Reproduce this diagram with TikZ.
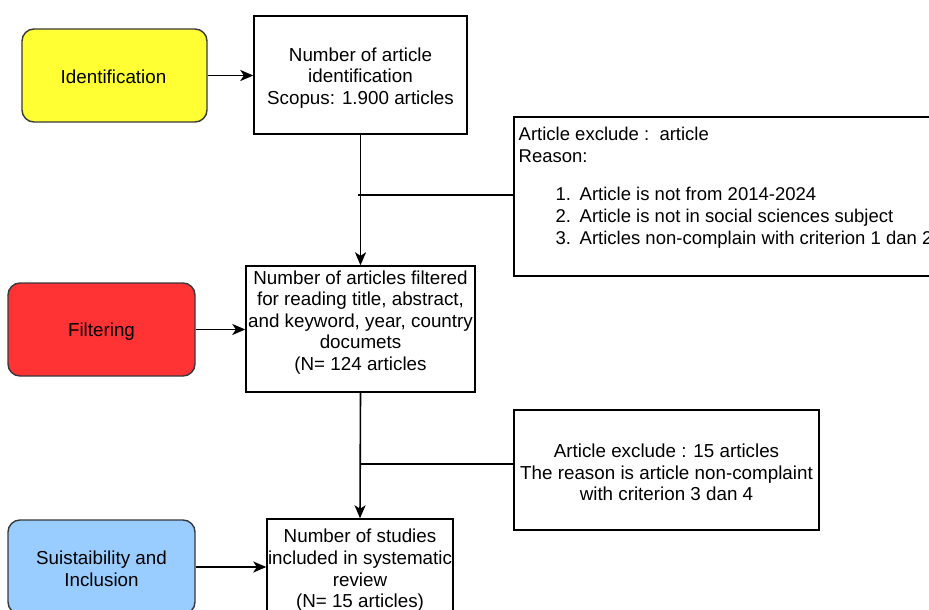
\documentclass[tikz,border=0pt]{standalone}
\usepackage{fontspec}
\setmainfont{Liberation Sans}
\usetikzlibrary{arrows.meta}
\definecolor{yel}{HTML}{FFFF33}
\definecolor{redf}{HTML}{FF3333}
\definecolor{bluef}{HTML}{99CCFF}
\definecolor{edgeg}{HTML}{36393D}
\newcommand{\fs}{\fontsize{18.8}{21.6}\selectfont}
\newcommand{\fsl}{\fontsize{18.5}{21.6}\selectfont}
\begin{document}
\begin{tikzpicture}[x=1pt,y=-1pt,
  box/.style={draw=black, line width=1.4pt, fill=white, inner sep=0pt},
  phase/.style={draw=edgeg, line width=1.4pt, rounded corners=12pt, inner sep=0pt},
  txt/.style={align=center, font=\fs, inner sep=0pt},
  conn/.style={line width=1.6pt},
  arr/.style={conn, -{Stealth[length=13pt,width=11pt,inset=3.5pt]}}]
\useasboundingbox (0,0) rectangle (929,610);
\clip (0,0) rectangle (929,610);
\fill[white] (0,0) rectangle (929,610);

% phase boxes
\node[phase, fill=yel, minimum width=185pt, minimum height=93pt] (id) at (114.5,75.5) {};
\node[txt] (idt) at (113.5,77) {Identification};
\node[phase, fill=redf, minimum width=187pt, minimum height=93pt] (filt) at (101.5,329.5) {};
\node[txt] (filtt) at (101.5,331.5) {Filtering};
\node[phase, fill=bluef, minimum width=187pt, minimum height=94pt] (su) at (101.5,567) {};
\node[txt] (sut) at (101.5,569) {Suistaibility and\\Inclusion};

% main boxes
\node[box, minimum width=213pt, minimum height=118pt] (b1) at (360.5,75) {};
\node[txt] (b1t) at (360.5,78) {Number of article\\identification\\Scopus: 1.900 articles};
\node[box, minimum width=229pt, minimum height=126pt] (b2) at (360.5,329) {};
\node[txt] (b2t) at (360.5,322.5) {Number of articles filtered\\for reading title, abstract,\\and keyword, year, country\\documets\\(N= 124 articles};
\node[box, minimum width=186pt, minimum height=100pt] (b3) at (360,569) {};
\node[txt] (b3t) at (360,570.5) {Number of studies\\included in systematic\\review\\(N= 15 articles)};

% exclusion boxes
\node[box, minimum width=446pt, minimum height=159pt] (e1) at (737,196.5) {};
\node[txt, font=\fsl, align=left, anchor=north west] (e1t) at (518.5,127) {Article exclude :\ \ article\\Reason:\\[17pt]\hspace*{37pt}\makebox[24pt][l]{1.}Article is not from 2014-2024\\\hspace*{37pt}\makebox[24pt][l]{2.}Article is not in social sciences subject\\\hspace*{37pt}\makebox[24pt][l]{3.}Articles non-complain with criterion 1 dan 2};
\node[box, minimum width=305pt, minimum height=120pt] (e2) at (666.5,470) {};
\node[txt] (e2t) at (666.5,472.5) {Article exclude : 15 articles\\The reason is article non-complaint\\with criterion 3 dan 4};

% connectors
\draw[arr] (id.east) -- (id.east -| b1.west);
\draw[arr] (filt.east) -- (filt.east -| b2.west);
\draw[arr] (su.east) -- (su.east -| b3.west);
\draw[arr] (b1.south) -- (b2.north);
\draw[arr] (b2.south) -- (b3.north);
\coordinate (j1) at (358,195);
\coordinate (j2) at (360.5,464);
\draw[conn] (j1) -- (j1 -| e1.west);
\draw[conn] (j2) -- (j2 -| e2.west);
\end{tikzpicture}
\end{document}
